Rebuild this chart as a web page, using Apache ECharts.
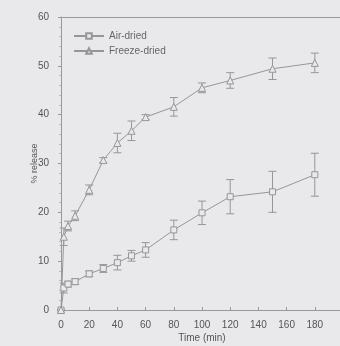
<!DOCTYPE html>
<html>
<head>
<meta charset="utf-8">
<script src="https://cdn.jsdelivr.net/npm/echarts@6/dist/echarts.min.js"></script>
<style>
  html, body { margin: 0; padding: 0; background: #e9e9eb; }
  #chart { width: 340px; height: 346px; }
</style>
</head>
<body>
<div id="chart"></div>
<script>
// release data
const times = [0, 2, 5, 10, 20, 30, 40, 50, 60, 80, 100, 120, 150, 180];
const airDried = [0, 4.5, 5.3, 5.8, 7.4, 8.5, 9.7, 11.1, 12.3, 16.4, 19.9, 23.2, 24.2, 27.7];
const airErr = [0, 1, 0.6, 0.6, 0.6, 0.8, 1.5, 1.1, 1.5, 2, 2.4, 3.5, 4.2, 4.4];
const freezeDried = [0, 15, 17.2, 19.3, 24.6, 30.7, 34.2, 36.7, 39.5, 41.6, 45.5, 47, 49.4, 50.6];
const freezeErr = [0, 1.8, 1, 1, 1, 0.5, 2, 2, 0.5, 1.9, 1, 1.6, 2.2, 2];

const lineColor = "#96969a";
const chart = echarts.init(document.getElementById("chart"));

function pairs(xs, ys) {
  return xs.map((x, i) => [x, ys[i]]);
}
function errData(xs, ys, es) {
  return xs.map((x, i) => [x, ys[i] - es[i], ys[i] + es[i]]);
}
function errorBars(params, api) {
  const lo = api.coord([api.value(0), api.value(1)]);
  const hi = api.coord([api.value(0), api.value(2)]);
  const w = 4;
  const style = { stroke: lineColor, lineWidth: 1 };
  return {
    type: "group",
    children: [
      { type: "line", shape: { x1: lo[0], y1: lo[1], x2: hi[0], y2: hi[1] }, style: style },
      { type: "line", shape: { x1: lo[0] - w, y1: lo[1], x2: lo[0] + w, y2: lo[1] }, style: style },
      { type: "line", shape: { x1: hi[0] - w, y1: hi[1], x2: hi[0] + w, y2: hi[1] }, style: style },
    ],
  };
}

chart.setOption({
  backgroundColor: "#e9e9eb",
  animation: false,
  textStyle: { fontFamily: "Liberation Sans, Arial, sans-serif" },
  grid: { left: 61, top: 17, right: -3, bottom: 36, outerBoundsMode: "none" },
  legend: {
    left: 68,
    top: 26,
    orient: "vertical",
    itemWidth: 30,
    itemHeight: 7,
    itemGap: 5,
    textStyle: { color: "#666", fontSize: 10 },
    data: ["Air-dried", "Freeze-dried"],
  },
  xAxis: {
    type: "value",
    min: 0,
    max: 200,
    interval: 20,
    name: "Time (min)",
    nameLocation: "middle",
    nameGap: 23,
    nameMoveOverlap: false,
    nameTextStyle: { color: "#555", fontSize: 10 },
    axisLine: { lineStyle: { color: "#999" } },
    axisTick: { inside: true, length: 3, lineStyle: { color: "#999" } },
    axisLabel: {
      color: "#555",
      fontSize: 10,
      margin: 10,
      formatter: (v) => (v >= 200 ? "" : v),
    },
    splitLine: { show: false },
  },
  yAxis: {
    type: "value",
    min: 0,
    max: 60,
    interval: 10,
    name: "% release",
    nameLocation: "middle",
    nameGap: 22,
    nameMoveOverlap: false,
    nameTextStyle: { color: "#555", fontSize: 9 },
    axisLine: { show: true, lineStyle: { color: "#999" } },
    axisTick: { length: 3, lineStyle: { color: "#999" } },
    minorTick: { show: true, splitNumber: 5, length: 2, lineStyle: { color: "#bbb" } },
    axisLabel: { color: "#555", fontSize: 10, margin: 12 },
    splitLine: { show: false },
  },
  series: [
    {
      name: "frame",
      type: "line",
      data: [],
      markLine: {
        silent: true,
        symbol: "none",
        label: { show: false },
        lineStyle: { color: "#999", type: "solid", width: 1 },
        data: [{ yAxis: 60 }],
      },
    },
    {
      name: "Air-dried",
      type: "line",
      data: pairs(times, airDried),
      symbol: "rect",
      symbolSize: 6,
      itemStyle: { color: "#e9e9eb", borderColor: lineColor, borderWidth: 1 },
      lineStyle: { color: lineColor, width: 1 },
      z: 3,
    },
    {
      name: "Freeze-dried",
      type: "line",
      data: pairs(times, freezeDried),
      symbol: "triangle",
      symbolSize: 7,
      itemStyle: { color: "#e9e9eb", borderColor: lineColor, borderWidth: 1 },
      lineStyle: { color: lineColor, width: 1 },
      z: 3,
    },
    {
      type: "custom",
      renderItem: errorBars,
      data: errData(times, airDried, airErr),
      encode: { x: 0, y: [1, 2] },
      z: 2,
    },
    {
      type: "custom",
      renderItem: errorBars,
      data: errData(times, freezeDried, freezeErr),
      encode: { x: 0, y: [1, 2] },
      z: 2,
    },
  ],
});
</script>
</body>
</html>
